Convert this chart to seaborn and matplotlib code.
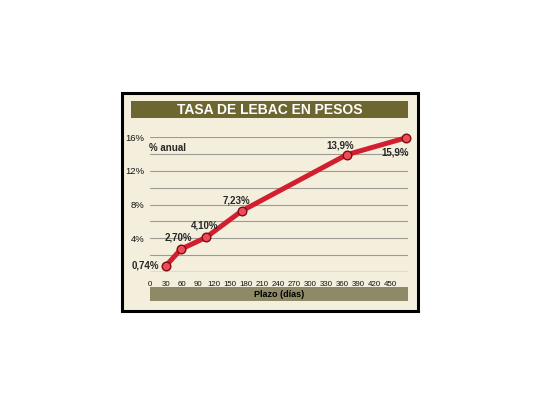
import pandas as pd
import matplotlib
matplotlib.use("Agg")
import matplotlib.pyplot as plt
from matplotlib.patches import Rectangle
import seaborn as sns

# Data
plazo_dias = [30, 58, 105, 172, 369, 480]
tasa = [0.74, 2.70, 4.10, 7.23, 13.9, 15.9]
etiquetas = ["0,74%", "2,70%", "4,10%", "7,23%", "13,9%", "15,9%"]
x_ticks = [0, 30, 60, 90, 120, 150, 180, 210, 240, 270, 300, 330, 360, 390, 420, 450]
y_ticks = [0, 4, 8, 12, 16]
y_labels = ["", "4%", "8%", "12%", "16%"]

df = pd.DataFrame({"plazo": plazo_dias, "tasa": tasa})

sns.set_style("white")
plt.rcParams["font.family"] = ["Liberation Sans", "DejaVu Sans"]

cream = "#f4efdc"
olive = "#6d6631"
olive_gray = "#8e8966"
red = "#d21f30"

W, H = 540, 405
fig = plt.figure(figsize=(5.4, 4.05), dpi=100)
fig.patch.set_facecolor("white")


def px(x0, y0, x1, y1):
    # pixel box (top-left origin) -> figure fraction rect
    return [x0 / W, 1 - y1 / H, (x1 - x0) / W, (y1 - y0) / H]


# outer framed panel
frame = Rectangle((121.5 / W, 1 - 311 / H), 296.5 / W, 218.5 / H,
                  transform=fig.transFigure, facecolor=cream,
                  edgecolor="black", linewidth=2.2, zorder=-3)
fig.patches.append(frame)

# title bar
title_bar = Rectangle((131 / W, 1 - 118.5 / H), 277 / W, 17 / H,
                      transform=fig.transFigure, facecolor=olive,
                      edgecolor="none", zorder=-2)
fig.patches.append(title_bar)
fig.text(270 / W, 1 - 110.5 / H, "TASA DE LEBAC EN PESOS", color="white",
         fontsize=10, fontweight="bold", ha="center", va="center")

# x label bar
x_bar = Rectangle((150 / W, 1 - 301 / H), 258 / W, 14 / H,
                  transform=fig.transFigure, facecolor=olive_gray,
                  edgecolor="none", zorder=-2)
fig.patches.append(x_bar)
fig.text(279 / W, 1 - 294.5 / H, "Plazo (días)", color="black",
         fontsize=6.5, fontweight="bold", ha="center", va="center")

ax = fig.add_axes(px(150, 137, 408, 272))
ax.set_zorder(1)
ax.patch.set_visible(False)

sns.lineplot(data=df, x="plazo", y="tasa", ax=ax, color=red, linewidth=3.6,
             marker="o", markersize=6.2, markerfacecolor="#f04b58",
             markeredgecolor="#7a0f12", markeredgewidth=1.0, clip_on=False,
             zorder=5)

ax.set_xlim(0, 484)
ax.set_ylim(0, 16)

for v in range(2, 17, 2):
    ax.axhline(v, color="#9c9a92", linewidth=0.8, zorder=1)
ax.axhline(0, color="#8a8880", linewidth=1.0, zorder=2)

ax.set_xticks(x_ticks)
ax.set_xticklabels([str(t) for t in x_ticks], fontsize=5.7, color="#111111")
ax.set_yticks(y_ticks)
ax.set_yticklabels(y_labels, fontsize=6.8, color="#111111")
ax.tick_params(axis="x", direction="in", length=2.5, width=0.6,
               color="#8a8880", pad=6.5)
ax.tick_params(axis="y", length=0, pad=4)
for s in ax.spines.values():
    s.set_visible(False)
ax.set_xlabel("")
ax.set_ylabel("")

ax.text(-1, 14.7, "% anual", fontsize=7, fontweight="bold", ha="left",
        va="center")

offsets = [(-5, 0, "right", "center"),
           (-2, 5, "center", "bottom"),
           (-1, 5, "center", "bottom"),
           (-4, 4, "center", "bottom"),
           (-5, 3, "center", "bottom"),
           (-8, -7, "center", "top")]
for x, y, lab, (dx, dy, ha, va) in zip(plazo_dias, tasa, etiquetas, offsets):
    ax.annotate(lab, (x, y), xytext=(dx, dy), textcoords="offset points",
                fontsize=7, fontweight="bold", ha=ha, va=va, zorder=6)

fig.savefig("out.png", dpi=100)
